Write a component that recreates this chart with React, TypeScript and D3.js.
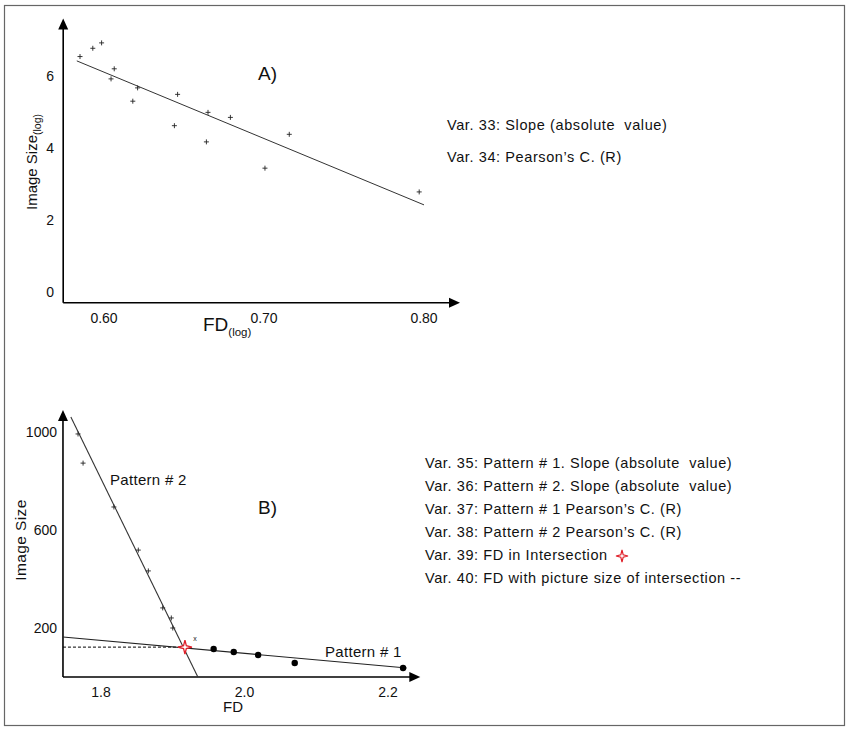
import React from 'react';
import * as d3 from 'd3';

// Panel A: log FD vs log image size
const fdLogA = [0.585, 0.593, 0.5985, 0.6064, 0.6044, 0.621, 0.618, 0.646, 0.644, 0.665, 0.664, 0.679, 0.7006, 0.7158, 0.797];
const sizeLogA = [6.54, 6.77, 6.92, 6.2, 5.92, 5.67, 5.3, 5.49, 4.62, 4.99, 4.17, 4.85, 3.44, 4.38, 2.78];
const fitA = [
  [0.583, 6.42],
  [0.8, 2.42],
];
const xTicksA = [0.6, 0.7, 0.8];
const yTicksA = [0, 2, 4, 6];
const notesA = ['Var. 33: Slope (absolute  value)', "Var. 34: Pearson\u2019s C. (R)"];

// Panel B: FD vs image size, two patterns
const fdP1 = [1.957, 1.985, 2.019, 2.07, 2.221];
const sizeP1 = [114, 102, 90, 57, 37];
const fdP2 = [1.768, 1.775, 1.818, 1.852, 1.866, 1.886, 1.898, 1.9, 1.931];
const sizeP2 = [992, 873, 694, 518, 433, 282, 241, 200, 155];
const fitP1 = [
  [1.747, 163],
  [2.226, 37],
];
const fitP2 = [
  [1.758, 1061],
  [1.935, 0],
];
const intersection = [1.917, 122];
const xTicksB = [1.8, 2.0, 2.2];
const yTicksB = [200, 600, 1000];
const notesB = [
  'Var. 35: Pattern # 1. Slope (absolute  value)',
  'Var. 36: Pattern # 2. Slope (absolute  value)',
  "Var. 37: Pattern # 1 Pearson\u2019s C. (R)",
  "Var. 38: Pattern # 2 Pearson\u2019s C. (R)",
  'Var. 39: FD in Intersection',
  'Var. 40: FD with picture size of intersection --',
];

const font = 'Liberation Sans, Arial, sans-serif';

const star4 = (cx: number, cy: number, r: number) => {
  const pts: [number, number][] = [];
  for (let i = 0; i < 8; i++) {
    const a = (i * Math.PI) / 4 - Math.PI / 2;
    const rr = i % 2 === 0 ? r : r * 0.28;
    pts.push([cx + rr * Math.cos(a), cy + rr * Math.sin(a)]);
  }
  return d3.line()(pts) + 'Z';
};

const plus = (x: number, y: number, s: number) => `M${x - s},${y}H${x + s}M${x},${y - s}V${y + s}`;

const Arrows = ({ x0, y0, yTop, xEnd }) => (
  <g>
    <line x1={x0} y1={y0} x2={x0} y2={yTop + 8} stroke="#000" strokeWidth={1.6} />
    <line x1={x0} y1={y0} x2={xEnd - 8} y2={y0} stroke="#000" strokeWidth={1.6} />
    <path d={`M${x0},${yTop}L${x0 - 5},${yTop + 11}L${x0 + 5},${yTop + 11}Z`} fill="#000" />
    <path d={`M${xEnd},${y0}L${xEnd - 11},${y0 - 5}L${xEnd - 11},${y0 + 5}Z`} fill="#000" />
  </g>
);

const noteStyle = { whiteSpace: 'pre' as const };

const App = () => {
  // scales A
  const xA = d3.scaleLinear().domain([0.6, 0.8]).range([104, 424]);
  const yA = d3.scaleLinear().domain([0, 6]).range([292, 76]);
  const axA = { x0: xA(0.5745), y0: yA(-0.3), yTop: yA(7.6), xEnd: xA(0.8225) };

  // scales B
  const xB = d3.scaleLinear().domain([1.8, 2.2]).range([101, 388]);
  const yB = d3.scaleLinear().domain([0, 1000]).range([677, 432]);
  const axB = { x0: xB(1.747), y0: yB(0), yTop: yB(1090), xEnd: xB(2.245) };

  const line = d3
    .line<number[]>()
    .x((d) => d[0])
    .y((d) => d[1]);

  return (
    <svg width={850} height={732} style={{ display: 'block', position: 'absolute', left: 0, top: 0 }} fontFamily={font}>
      <rect x={0} y={0} width={850} height={732} fill="#fff" />
      <rect x={4.5} y={5.5} width={840} height={720} fill="none" stroke="#666" strokeWidth={1.2} />

      {/* Panel A */}
      <Arrows {...axA} />
      {yTicksA.map((t) => (
        <text key={t} x={54} y={yA(t)} dy="0.35em" textAnchor="end" fontSize={14} fill="#111">
          {t}
        </text>
      ))}
      {xTicksA.map((t) => (
        <text key={t} x={xA(t)} y={318} dy="0.35em" textAnchor="middle" fontSize={14} fill="#111">
          {t.toFixed(2)}
        </text>
      ))}
      <path d={line(fitA.map((d) => [xA(d[0]), yA(d[1])]))} stroke="#333" strokeWidth={1} fill="none" />
      {fdLogA.map((f, i) => (
        <path key={i} d={plus(xA(f), yA(sizeLogA[i]), 2.5)} stroke="#222" strokeWidth={0.9} />
      ))}
      <text x={258} y={73} dy="0.35em" fontSize={19} fill="#111">
        A)
      </text>
      <text transform="translate(37,162) rotate(-90)" textAnchor="middle" fontSize={15} fill="#111">
        Image Size
        <tspan fontSize={10.5} dy={4}>
          (log)
        </tspan>
      </text>
      <text x={203} y={331} fontSize={19} fill="#111">
        FD
        <tspan fontSize={11.5} dy={5}>
          (log)
        </tspan>
      </text>
      {notesA.map((s, i) => (
        <text key={i} x={447} y={125 + i * 32} dy="0.35em" fontSize={14.5} letterSpacing={0.6} fill="#111" style={noteStyle}>
          {s}
        </text>
      ))}

      {/* Panel B */}
      <Arrows {...axB} />
      {yTicksB.map((t) => (
        <text key={t} x={57} y={yB(t)} dy="0.35em" textAnchor="end" fontSize={14} fill="#111">
          {t}
        </text>
      ))}
      {xTicksB.map((t) => (
        <text key={t} x={xB(t)} y={692} dy="0.35em" textAnchor="middle" fontSize={14} fill="#111">
          {t.toFixed(1)}
        </text>
      ))}
      <line
        x1={axB.x0}
        x2={xB(intersection[0])}
        y1={yB(intersection[1])}
        y2={yB(intersection[1])}
        stroke="#000"
        strokeWidth={1}
        strokeDasharray="3,2"
      />
      <path d={line(fitP1.map((d) => [xB(d[0]), yB(d[1])]))} stroke="#222" strokeWidth={1.1} fill="none" />
      <path d={line(fitP2.map((d) => [xB(d[0]), yB(d[1])]))} stroke="#333" strokeWidth={1.1} fill="none" />
      {fdP2.map((f, i) =>
        i === fdP2.length - 1 ? (
          <text key={i} x={xB(f)} y={yB(sizeP2[i])} dy="0.3em" textAnchor="middle" fontSize={7} fill="#222">
            x
          </text>
        ) : (
          <path key={i} d={plus(xB(f), yB(sizeP2[i]), 2.5)} stroke="#222" strokeWidth={0.9} />
        )
      )}
      {fdP1.map((f, i) => (
        <circle key={i} cx={xB(f)} cy={yB(sizeP1[i])} r={3.2} fill="#000" />
      ))}
      <path d={star4(xB(intersection[0]), yB(intersection[1]), 7)} fill="#fff" stroke="#e0202a" strokeWidth={1.3} />
      <text x={110} y={480} dy="0.35em" fontSize={15} letterSpacing={0.3} fill="#111">
        Pattern # 2
      </text>
      <text x={325} y={652} dy="0.35em" fontSize={15} letterSpacing={0.3} fill="#111">
        Pattern # 1
      </text>
      <text x={258} y={507} dy="0.35em" fontSize={19} fill="#111">
        B)
      </text>
      <text transform="translate(26,540) rotate(-90)" textAnchor="middle" fontSize={15.5} letterSpacing={0.4} fill="#111">
        Image Size
      </text>
      <text x={233} y={707} dy="0.35em" textAnchor="middle" fontSize={15} fill="#111">
        FD
      </text>
      {notesB.map((s, i) => (
        <text key={i} x={425} y={463 + i * 23} dy="0.35em" fontSize={14.5} letterSpacing={0.6} fill="#111" style={noteStyle}>
          {s}
        </text>
      ))}
      <path d={star4(622, 463 + 4 * 23 + 1, 6)} fill="#fff" stroke="#e0202a" strokeWidth={1.2} />
    </svg>
  );
};

export default App;
